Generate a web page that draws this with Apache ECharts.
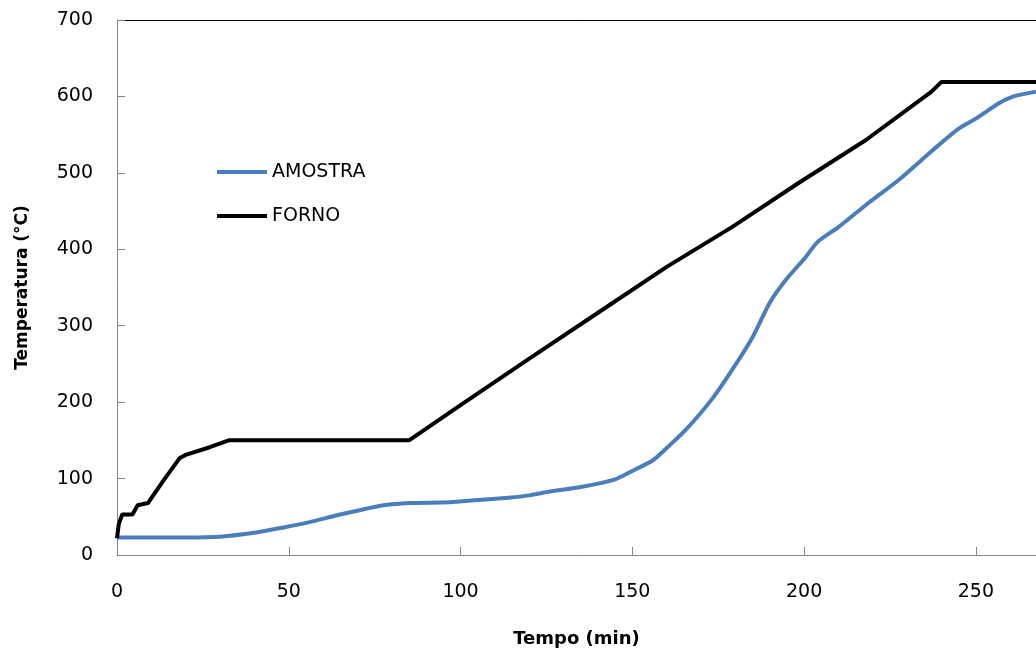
<!DOCTYPE html>
<html>
<head>
<meta charset="utf-8">
<script src="https://cdn.jsdelivr.net/npm/echarts@6/dist/echarts.min.js"></script>
<style>
  html, body { margin: 0; padding: 0; background: #fff; }
  #chart { width: 1036px; height: 654px; }
</style>
</head>
<body>
<div id="chart"></div>
<script>
// Furnace (FORNO) temperature log: time in minutes, temperature in °C
const fornoTime = [0, 0.5, 1.5, 4.5, 6, 9, 13.6, 18.3, 20, 27, 32.5, 85, 100, 120, 140, 160, 179, 198.5, 218, 237, 240, 267.5];
const fornoTemp = [22, 40, 53, 53, 65, 68, 98, 127, 131, 141, 150, 150, 196, 257, 317, 377, 429, 487, 543, 606, 619, 619];

// Sample (AMOSTRA) temperature log
const amostraTime = [0, 10, 20, 30, 40, 48.5, 56, 64, 70, 77.6, 85, 96.8, 105, 114, 120, 126, 135, 145, 150, 156, 160, 165.6, 173, 179, 185, 190, 194.7, 200.5, 204, 210, 218, 227.6, 237, 245, 250, 256.7, 261, 267.5];
const amostraTemp = [23, 23, 23, 24, 29, 36, 43, 52, 58, 65, 68, 69, 72, 75, 78, 83, 89, 99, 110, 124, 140, 164, 203, 242, 285, 330, 360, 390, 410, 429, 458, 491, 528, 558, 571, 591, 600, 606];

const seriesNames = ['AMOSTRA', 'FORNO'];
const xTitle = 'Tempo (min)';
const yTitle = 'Temperatura (°C)';

const pairs = (xs, ys) => xs.map((x, i) => [x, ys[i]]);

const FONT = 'DejaVu Sans';
const axisGray = '#868686';
const X_MAX = 267.5;

const chart = echarts.init(document.getElementById('chart'), null, { renderer: 'canvas' });

chart.setOption({
  animation: false,
  backgroundColor: '#ffffff',
  grid: { left: 117, right: -1, top: 20, bottom: 99, containLabel: false },
  legend: {
    orient: 'vertical',
    left: 212,
    top: 157,
    icon: 'rect',
    itemWidth: 50,
    itemHeight: 4,
    itemGap: 24,
    textStyle: { fontFamily: FONT, fontSize: 19, color: '#000', lineHeight: 20 },
    data: seriesNames
  },
  xAxis: [{
    // axis line, inner ticks and title
    type: 'value',
    min: 0,
    max: X_MAX,
    interval: 50,
    name: xTitle,
    nameLocation: 'middle',
    nameGap: 75,
    nameTextStyle: { fontFamily: FONT, fontSize: 18, fontWeight: 'bold', color: '#000' },
    axisLine: { show: true, onZero: false, lineStyle: { color: axisGray, width: 1 } },
    axisTick: { show: true, inside: true, length: 8, lineStyle: { color: axisGray } },
    axisLabel: { show: false },
    splitLine: { show: false }
  }, {
    // tick labels, set lower beneath the axis line
    type: 'value',
    position: 'bottom',
    offset: 24,
    min: 0,
    max: X_MAX,
    interval: 50,
    axisLine: { show: false, onZero: false },
    axisTick: { show: false },
    axisLabel: {
      fontFamily: FONT, fontSize: 19, color: '#000',
      margin: 4,
      showMaxLabel: false,
      formatter: v => (v % 50 === 0 ? String(v) : '')
    },
    splitLine: { show: false }
  }],
  yAxis: {
    type: 'value',
    min: 0,
    max: 700,
    interval: 100,
    name: yTitle,
    nameLocation: 'middle',
    nameGap: 86,
    nameTextStyle: { fontFamily: FONT, fontSize: 17, fontWeight: 'bold', color: '#000' },
    axisLine: { show: true, onZero: false, lineStyle: { color: axisGray, width: 1 } },
    axisTick: { show: true, inside: true, length: 8, lineStyle: { color: axisGray } },
    axisLabel: { fontFamily: FONT, fontSize: 19, color: '#000', margin: 24 },
    splitLine: { show: false }
  },
  graphic: [{
    // black top edge of the plot frame
    type: 'line',
    shape: { x1: 117, y1: 20.5, x2: 1036, y2: 20.5 },
    style: { stroke: '#000', lineWidth: 1 },
    silent: true
  }],
  series: [{
    name: seriesNames[0],
    type: 'line',
    xAxisIndex: 0,
    data: pairs(amostraTime, amostraTemp),
    showSymbol: false,
    symbol: 'none',
    smooth: 0.25,
    lineStyle: { color: '#4A7EBB', width: 4 },
    itemStyle: { color: '#4A7EBB' },
    z: 2
  }, {
    name: seriesNames[1],
    type: 'line',
    xAxisIndex: 0,
    data: pairs(fornoTime, fornoTemp),
    showSymbol: false,
    symbol: 'none',
    lineStyle: { color: '#000000', width: 4 },
    itemStyle: { color: '#000000' },
    z: 3
  }]
});
</script>
</body>
</html>
